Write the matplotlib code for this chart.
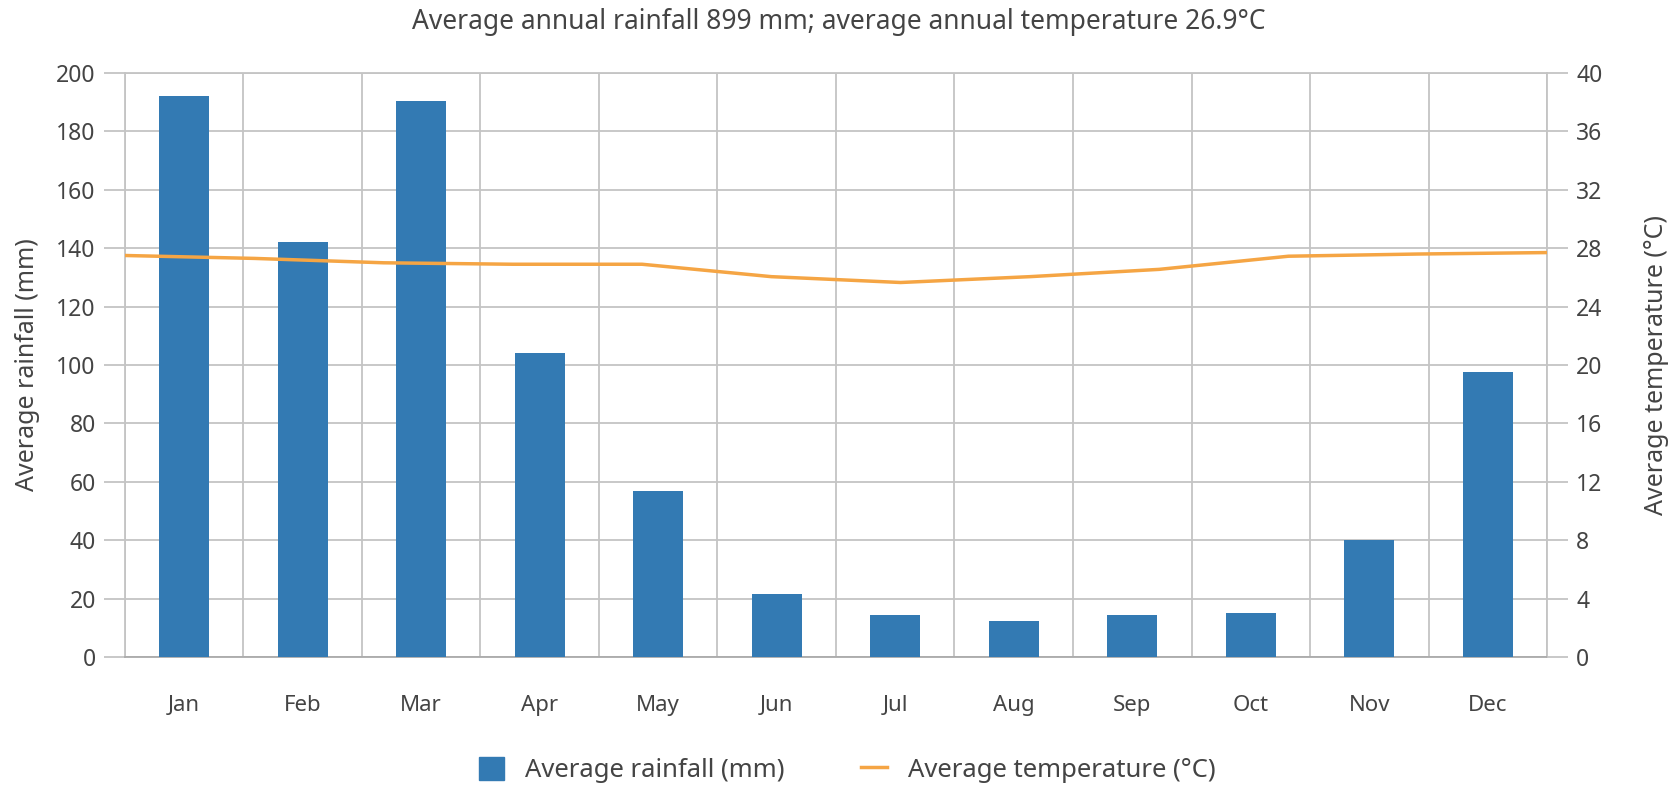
import numpy as np
import matplotlib
matplotlib.use("Agg")
import matplotlib.pyplot as plt
from matplotlib.patches import Patch
from matplotlib.lines import Line2D

months = ["Jan", "Feb", "Mar", "Apr", "May", "Jun",
          "Jul", "Aug", "Sep", "Oct", "Nov", "Dec"]
rainfall = [192, 142, 190.5, 104, 57, 21.5, 14.3, 12.3, 14.3, 15, 40, 97.5]
temperature = [27.5, 27.3, 27.0, 26.9, 26.9, 26.05, 25.65, 26.05, 26.55, 27.45, 27.6, 27.7]
title = "Average annual rainfall 899 mm; average annual temperature 26.9°C"

plt.rcParams["font.family"] = ["Noto Sans", "DejaVu Sans"]
text_col = "#444444"
grid_col = "#c4c4c4"
bar_col = "#337ab3"
line_col = "#f5a544"

fig = plt.figure(figsize=(16.77, 7.89), dpi=100)
ax = fig.add_axes([0.0745, 0.1673, 0.848, 0.7402])

x = np.arange(len(months))
ax.bar(x, rainfall, width=0.42, color=bar_col, zorder=3)
ax.set_xlim(-0.5, len(months) - 0.5)
ax.set_ylim(0, 200)
ax.set_yticks(np.arange(0, 201, 20))
ax.set_xticks(x)
ax.set_xticklabels(months)
ax.set_xticks(np.arange(-0.5, len(months), 1), minor=True)
ax.grid(which="minor", axis="x", color=grid_col, lw=1.3, zorder=0)
ax.grid(which="major", axis="y", color=grid_col, lw=1.3, zorder=0)
ax.tick_params(axis="x", which="both", length=0, pad=27, labelsize=16, labelcolor=text_col)
ax.tick_params(axis="y", length=15, width=1.3, color=grid_col, labelsize=16.5,
               labelcolor=text_col, pad=6)
for side in ["top", "bottom", "left", "right"]:
    ax.spines[side].set_color(grid_col)
    ax.spines[side].set_linewidth(1.3)
ax.spines["bottom"].set_color("#aaaaaa")
ax.set_ylabel("Average rainfall (mm)", fontsize=18, color=text_col, labelpad=12)

ax2 = ax.twinx()
tx = np.linspace(-0.5, len(months) - 0.5, len(temperature))
ax2.plot(tx, temperature, color=line_col, lw=2.5, zorder=4)
ax2.set_ylim(0, 40)
ax2.set_yticks(np.arange(0, 41, 4))
ax2.tick_params(axis="y", length=15, width=1.3, color=grid_col, labelsize=16.5,
                labelcolor=text_col, pad=6)
for side in ["top", "bottom", "left", "right"]:
    ax2.spines[side].set_visible(False)
ax2.set_ylabel("Average temperature (°C)", fontsize=18, color=text_col, labelpad=30)

fig.text(0.5, 0.972, title, ha="center", va="center", fontsize=19, color=text_col)

handles = [Patch(color=bar_col), Line2D([], [], color=line_col, lw=2.5)]
fig.legend(handles, ["Average rainfall (mm)", "Average temperature (°C)"],
           loc="center", bbox_to_anchor=(0.505, 0.024), ncol=2, frameon=False,
           fontsize=18.5, labelcolor=text_col, handlelength=1.0, handleheight=1.0,
           columnspacing=3.0)

plt.savefig("out.png", dpi=100)
plt.close()
